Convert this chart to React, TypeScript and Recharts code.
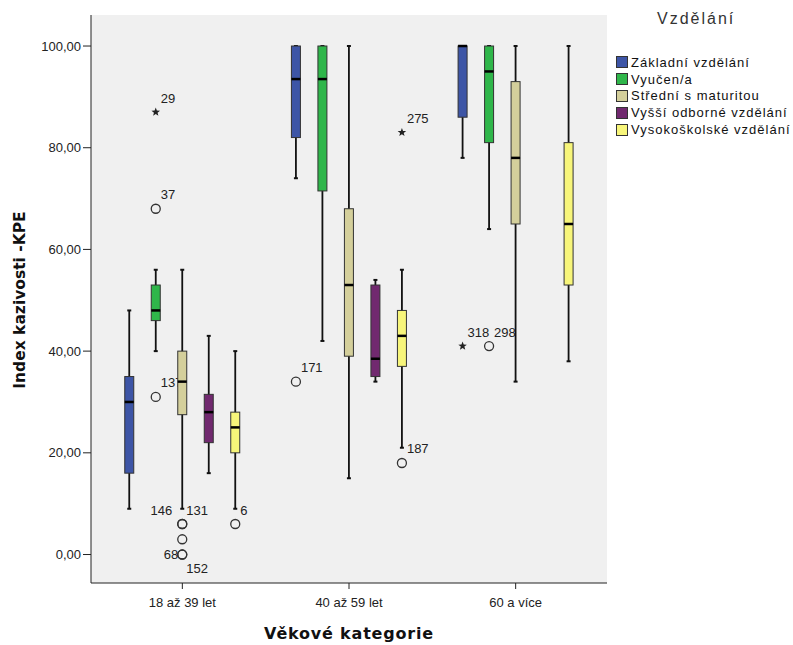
import React from 'react';
import { BarChart, Bar, XAxis, YAxis, CartesianGrid } from 'recharts';

const AGE_GROUPS = ['18 až 39 let', '40 až 59 let', '60 a více'];
const EDU_LEVELS = [
  'Základní vzdělání',
  'Vyučen/a',
  'Střední s maturitou',
  'Vyšší odborné vzdělání',
  'Vysokoškolské vzdělání',
];
const Y_TICKS = [0, 20, 40, 60, 80, 100];

// [dolní vous, Q1, medián, Q3, horní vous] pro každou věkovou kategorii
const ZAKLADNI = [[9, 16, 30, 35, 48], [74, 82, 93.5, 100, 100], [78, 86, 100, 100, 100]];
const VYUCEN = [[40, 46, 48, 53, 56], [42, 71.5, 93.5, 100, 100], [64, 81, 95, 100, 100]];
const STREDNI = [[9, 27.5, 34, 40, 56], [15, 39, 53, 68, 100], [34, 65, 78, 93, 100]];
const VYSSI = [[16, 22, 28, 31.5, 43], [34, 35, 38.5, 53, 54], null];
const VYSOKO = [[9, 20, 25, 28, 40], [21, 37, 43, 48, 56], [38, 53, 65, 81, 100]];

type Outlier = { age: number; v: number; label: string; extreme?: boolean };

const ZAKLADNI_OUT: Outlier[] = [
  { age: 1, v: 34, label: '171' },
  { age: 2, v: 41, label: '318', extreme: true },
];
const VYUCEN_OUT: Outlier[] = [
  { age: 0, v: 87, label: '29', extreme: true },
  { age: 0, v: 68, label: '37' },
  { age: 0, v: 31, label: '137' },
  { age: 2, v: 41, label: '298' },
];
const STREDNI_OUT: Outlier[] = [
  { age: 0, v: 6, label: '146' },
  { age: 0, v: 6, label: '131' },
  { age: 0, v: 3, label: '' },
  { age: 0, v: 0, label: '68' },
  { age: 0, v: 0, label: '152' },
];
const VYSSI_OUT: Outlier[] = [];
const VYSOKO_OUT: Outlier[] = [
  { age: 0, v: 6, label: '6' },
  { age: 1, v: 83, label: '275', extreme: true },
  { age: 1, v: 18, label: '187' },
];

const STATS = [ZAKLADNI, VYUCEN, STREDNI, VYSSI, VYSOKO];
const OUTLIERS = [ZAKLADNI_OUT, VYUCEN_OUT, STREDNI_OUT, VYSSI_OUT, VYSOKO_OUT];
const COLORS = ['#3d55a6', '#2fb64a', '#d4cf9b', '#71296f', '#f7f57a'];

// where a case label sits next to its marker (default: upper right)
const LABEL_POS: Record<string, { dx: number; dy: number; anchor: 'start' | 'end' }> = {
  '146': { dx: -10, dy: -14, anchor: 'end' },
  '131': { dx: 4, dy: -14, anchor: 'start' },
  '68': { dx: -4, dy: 0, anchor: 'end' },
  '152': { dx: 4, dy: 14, anchor: 'start' },
};

const FONT = '"Liberation Sans", Arial, sans-serif';

const rows = AGE_GROUPS.map((age, i) => {
  const row: any = { age };
  EDU_LEVELS.forEach((_, k) => {
    const s = STATS[k][i];
    if (!s) {
      row[`r${k}`] = null;
      return;
    }
    const outs = OUTLIERS[k].filter((o) => o.age === i);
    const vals = [...s, ...outs.map((o) => o.v)];
    row[`r${k}`] = [Math.min(...vals), Math.max(...vals)];
    row[`s${k}`] = s;
    row[`o${k}`] = outs;
  });
  return row;
});

function starPoints(cx: number, cy: number, r: number) {
  const pts: string[] = [];
  for (let i = 0; i < 10; i++) {
    const a = (Math.PI / 5) * i - Math.PI / 2;
    const rr = i % 2 === 0 ? r : r * 0.42;
    pts.push(`${cx + rr * Math.cos(a)},${cy + rr * Math.sin(a)}`);
  }
  return pts.join(' ');
}

function BoxShape(props: any) {
  const { x, y, width, height, payload, level } = props;
  const range = payload?.[`r${level}`];
  const s = payload?.[`s${level}`];
  if (!range || !s) return null;
  const top = Math.min(y, y + height);
  const bot = Math.max(y, y + height);
  const [lo, hi] = range;
  // linear mapping taken from the bar rectangle the y scale produced
  const py = (v: number) => top + ((hi - v) / (hi - lo)) * (bot - top);
  const cx = x + width / 2;
  const bw = 9;
  const [wLo, q1, med, q3, wHi] = s;
  const outs: Outlier[] = payload[`o${level}`] || [];
  return (
    <g>
      <line x1={cx} x2={cx} y1={py(wHi)} y2={py(wLo)} stroke="#111" strokeWidth={1.8} />
      <line x1={cx - 2} x2={cx + 2} y1={py(wHi)} y2={py(wHi)} stroke="#111" strokeWidth={2} />
      <line x1={cx - 2} x2={cx + 2} y1={py(wLo)} y2={py(wLo)} stroke="#111" strokeWidth={2} />
      <rect
        x={cx - bw / 2}
        y={py(q3)}
        width={bw}
        height={Math.max(py(q1) - py(q3), 0.5)}
        fill={COLORS[level]}
        stroke="#333"
        strokeWidth={1}
      />
      <line x1={cx - bw / 2} x2={cx + bw / 2} y1={py(med)} y2={py(med)} stroke="#000" strokeWidth={2.5} />
      {outs.map((o, i) => {
        const oy = py(o.v);
        const lp = LABEL_POS[o.label] || { dx: 5, dy: -14, anchor: 'start' };
        return (
          <g key={i}>
            {o.extreme ? (
              <polygon points={starPoints(cx, oy, 4.5)} fill="#222" />
            ) : (
              <circle cx={cx} cy={oy} r={4.5} fill="none" stroke="#333" strokeWidth={1.3} />
            )}
            {o.label && (
              <text
                x={cx + lp.dx}
                y={oy + lp.dy}
                textAnchor={lp.anchor}
                dominantBaseline="central"
                fontSize={13}
                fontFamily={FONT}
                fill="#222"
              >
                {o.label}
              </text>
            )}
          </g>
        );
      })}
    </g>
  );
}

const fmt = (v: number) => v.toFixed(2).replace('.', ',');

export default function App() {
  return (
    <div
      style={{
        position: 'absolute',
        left: 0,
        top: 0,
        width: 793,
        height: 645,
        background: '#fff',
        fontFamily: FONT,
      }}
    >
      <BarChart
        width={793}
        height={645}
        data={rows}
        margin={{ top: 15, right: 186, bottom: 32, left: 0 }}
        barSize={26.5}
        barGap={0}
      >
        <CartesianGrid fill="#f0f0f0" horizontal={false} vertical={false} />
        <XAxis
          dataKey="age"
          padding={{ left: 8, right: 8 }}
          height={30}
          tickSize={6}
          tickMargin={9}
          stroke="#222"
          tick={{ fontSize: 13, fill: '#222', fontFamily: FONT }}
        />
        <XAxis
          xAxisId="top"
          dataKey="age"
          orientation="top"
          height={0}
          tick={false}
          tickLine={false}
          stroke="#222"
        />
        <YAxis
          type="number"
          domain={[-5.6, 106.1]}
          ticks={Y_TICKS}
          allowDataOverflow
          width={91}
          tickSize={8}
          tickMargin={2}
          tickFormatter={fmt}
          stroke="#222"
          tick={{ fontSize: 13, fill: '#222', fontFamily: FONT }}
        />
        <YAxis
          yAxisId="right"
          orientation="right"
          width={0}
          domain={[0, 1]}
          tick={false}
          tickLine={false}
          stroke="#222"
        />
        {EDU_LEVELS.map((name, k) => (
          <Bar
            key={name}
            name={name}
            dataKey={`r${k}`}
            fill={COLORS[k]}
            isAnimationActive={false}
            shape={(p: any) => <BoxShape {...p} level={k} />}
          />
        ))}
      </BarChart>

      <div
        style={{
          position: 'absolute',
          left: 20,
          top: 300,
          transform: 'translate(-50%, -50%) rotate(-90deg)',
          whiteSpace: 'nowrap',
          fontFamily: '"DejaVu Sans", sans-serif',
          fontWeight: 'bold',
          fontSize: 15.5,
          color: '#111',
        }}
      >
        Index kazivosti -KPE
      </div>
      <div
        style={{
          position: 'absolute',
          left: 349,
          top: 633,
          transform: 'translate(-50%, -50%)',
          whiteSpace: 'nowrap',
          fontFamily: '"DejaVu Sans", sans-serif',
          fontWeight: 'bold',
          fontSize: 16,
          letterSpacing: 0.8,
          color: '#111',
        }}
      >
        Věkové kategorie
      </div>

      <div style={{ position: 'absolute', left: 616, top: 10, width: 177 }}>
        <div
          style={{
            position: 'absolute',
            left: 41,
            top: 0,
            fontSize: 16,
            letterSpacing: 2,
            color: '#333',
          }}
        >
          Vzdělání
        </div>
        <div style={{ position: 'absolute', left: 0, top: 44 }}>
          {EDU_LEVELS.map((name, k) => (
            <div
              key={name}
              style={{
                display: 'flex',
                alignItems: 'center',
                height: 16.8,
                fontSize: 13,
                letterSpacing: 1,
                whiteSpace: 'nowrap',
                color: '#111',
              }}
            >
              <span
                style={{
                  display: 'inline-block',
                  width: 10,
                  height: 10,
                  background: COLORS[k],
                  border: '1px solid #333',
                  marginRight: 3,
                }}
              />
              {name}
            </div>
          ))}
        </div>
      </div>
    </div>
  );
}
